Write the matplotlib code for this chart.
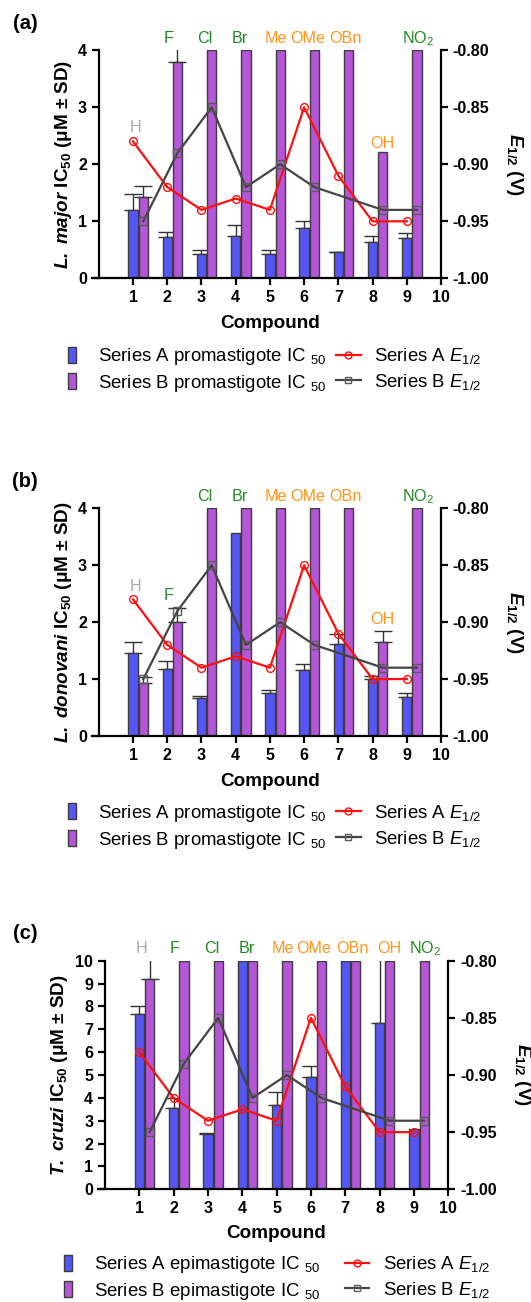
import numpy as np
import matplotlib
matplotlib.use('Agg')
import matplotlib.pyplot as plt
from matplotlib.lines import Line2D
from matplotlib.ticker import FormatStrFormatter

plt.rcParams['font.family'] = ['Liberation Sans', 'DejaVu Sans']
plt.rcParams['mathtext.fontset'] = 'custom'
plt.rcParams['mathtext.rm'] = 'Liberation Sans'
plt.rcParams['mathtext.it'] = 'Liberation Sans:italic'
plt.rcParams['mathtext.bf'] = 'Liberation Sans:bold'
plt.rcParams['mathtext.bfit'] = 'Liberation Sans:bold:italic'

# ---------------- data ----------------
compounds = [1, 2, 3, 4, 5, 6, 7, 8, 9]
substituents = ['H', 'F', 'Cl', 'Br', 'Me', 'OMe', 'OBn', 'OH', 'NO$_2$']
sub_colors = ['#aaaaaa', '#1f8a1f', '#1f8a1f', '#1f8a1f', '#ff961e',
              '#ff961e', '#ff961e', '#ff961e', '#1f8a1f']

e_half_A = [-0.88, -0.92, -0.94, -0.93, -0.94, -0.85, -0.91, -0.95, -0.95]
e_half_B = [-0.95, -0.89, -0.85, -0.92, -0.90, -0.92, np.nan, -0.94, -0.94]

lmaj_A = [1.20, 0.73, 0.42, 0.75, 0.42, 0.89, 0.46, 0.64, 0.70]
lmaj_A_sd = [0.28, 0.09, 0.07, 0.18, 0.08, 0.12, 0.01, 0.10, 0.10]
lmaj_B = [1.43, 3.79, 4.0, 4.0, 4.0, 4.0, 4.0, 2.22, 4.0]
lmaj_B_sd = [0.19, 0.40, 0, 0, 0, 0, 0, 0, 0]

ldon_A = [1.45, 1.17, 0.66, 3.56, 0.75, 1.16, 1.61, 1.01, 0.69]
ldon_A_sd = [0.20, 0.15, 0.04, 0, 0.06, 0.10, 0.19, 0.04, 0.06]
ldon_B = [0.93, 2.00, 4.0, 4.0, 4.0, 4.0, 4.0, 1.66, 4.0]
ldon_B_sd = [0.10, 0.24, 0, 0, 0, 0, 0, 0.18, 0]

tcru_A = [7.65, 3.54, 2.42, 10.0, 3.69, 4.91, 10.0, 7.29, 2.62]
tcru_A_sd = [0.37, 0.44, 0.03, 0, 0.58, 0.47, 0, 4.0, 0]
tcru_B = [9.2, 10.0, 10.0, 10.0, 10.0, 10.0, 10.0, 10.0, 10.0]
tcru_B_sd = [1.5, 0, 0, 0, 0, 0, 0, 0, 0]

# ---------------- style ----------------
BLUE = '#5656f7'
PURPLE = '#b556d8'
EDGE = '#3c3c3c'
RED = '#ff1010'
GRAY = '#444444'
TICK_FS = 11.6
LAB_FS = 13.6
SUB_FS = 11.6
LEG_FS = 13.4

W, H = 531, 1302
fig = plt.figure(figsize=(W / 100, H / 100), dpi=100)


def fx(px):
    return px / W


def fy(py):
    return 1 - py / H


def rect(l, t, r, b):
    return [fx(l), fy(b), fx(r) - fx(l), (b - t) / H]


def panel(box, xleft, A, Asd, B, Bsd, ymax, ylab, letter, letter_y, lab_x, lab_y,
          ylab_x, rlab_x, xlab_x, xlab_y, leg_kind, leg_x, leg_y, colsp):
    l, t, r, b = box
    ax = fig.add_axes(rect(l, t, r, b))
    x = np.array(compounds, dtype=float)
    ax.bar(x, A, width=0.27, color=BLUE, edgecolor=EDGE, linewidth=1.0, zorder=2)
    ax.bar(x + 0.3, B, width=0.27, color=PURPLE, edgecolor=EDGE, linewidth=1.0, zorder=2)
    for xs, vals, sds in ((x, A, Asd), (x + 0.3, B, Bsd)):
        vals = np.array(vals)
        sds = np.array(sds)
        m = sds > 0
        ax.errorbar(xs[m], vals[m], yerr=[np.zeros(m.sum()), sds[m]], fmt='none',
                    ecolor='#333333', elinewidth=1.0, capsize=6.5, capthick=1.0, zorder=1)
    ax.set_xlim(xleft, 10)
    ax.set_ylim(0, ymax)
    ax.set_xticks(range(1, 11))
    ax.set_yticks(range(0, int(ymax) + 1))
    ax.spines['left'].set_position(('data', 0))
    for s in ('top', 'right'):
        ax.spines[s].set_visible(False)
    for s in ('left', 'bottom'):
        ax.spines[s].set_linewidth(1.6)
    ax.tick_params(axis='both', direction='out', length=5, width=1.6, labelsize=TICK_FS)
    for lab in ax.get_xticklabels() + ax.get_yticklabels():
        lab.set_fontweight('bold')

    ax2 = ax.twinx()
    ax2.set_ylim(-1.0, -0.8)
    ax2.set_yticks([-1.0, -0.95, -0.9, -0.85, -0.8])
    ax2.yaxis.set_major_formatter(FormatStrFormatter('%.2f'))
    for s in ('top', 'left', 'bottom'):
        ax2.spines[s].set_visible(False)
    ax2.spines['right'].set_linewidth(1.6)
    ax2.tick_params(axis='y', direction='out', length=5, width=1.6, labelsize=TICK_FS)
    for lab in ax2.get_yticklabels():
        lab.set_fontweight('bold')

    eA = np.array(e_half_A)
    eB = np.array(e_half_B)
    mB = ~np.isnan(eB)
    ax2.plot(x, eA, color=RED, lw=1.6, marker='o', ms=5.6, mfc='none', mec=RED, mew=1.0, zorder=3)
    ax2.plot((x + 0.3)[mB], eB[mB], color=GRAY, lw=1.6, marker='s', ms=5.6, mfc='none',
             mec='#5a5a5a', mew=1.0, zorder=3)

    # substituent labels
    for i, (txt, col) in enumerate(zip(substituents, sub_colors)):
        if lab_y[i] is None:
            ax.annotate(txt, xy=(lab_x[i], 1.0), xycoords=('data', 'axes fraction'),
                        xytext=(0, 5.2), textcoords='offset points', ha='center',
                        va='baseline', color=col, fontsize=SUB_FS, annotation_clip=False)
        else:
            ax.text(lab_x[i], lab_y[i], txt, ha='center', va='baseline', color=col,
                    fontsize=SUB_FS)

    cy = (t + b) / 2
    fig.text(fx(ylab_x), fy(cy), ylab, rotation=90, ha='center', va='center',
             fontsize=LAB_FS, fontweight='bold')
    fig.text(fx(rlab_x), fy(cy), r'$\mathbfit{E}_{\mathbf{1/2}}$ (V)', rotation=270,
             ha='center', va='center', fontsize=LAB_FS, fontweight='bold')
    fig.text(fx(xlab_x), fy(xlab_y), 'Compound', ha='center', va='center',
             fontsize=LAB_FS, fontweight='bold')
    fig.text(fx(25.1), fy(letter_y), letter, ha='center', va='center',
             fontsize=14.5, fontweight='bold')

    rect_marker = [(-0.28, -0.5), (0.28, -0.5), (0.28, 0.5), (-0.28, 0.5), (-0.28, -0.5)]
    handles = [
        Line2D([], [], ls='none', marker=rect_marker, ms=11, mfc=BLUE, mec=EDGE, mew=1.0),
        Line2D([], [], ls='none', marker=rect_marker, ms=11, mfc=PURPLE, mec=EDGE, mew=1.0),
        Line2D([], [], color=RED, lw=1.6, marker='o', ms=5, mfc='none', mec=RED, mew=1.0),
        Line2D([], [], color=GRAY, lw=1.6, marker='s', ms=5, mfc='none', mec='#5a5a5a', mew=1.0),
    ]
    labels = [f'Series A {leg_kind} IC $_{{50}}$', f'Series B {leg_kind} IC $_{{50}}$',
              r'Series A $\mathit{E}_{1/2}$', r'Series B $\mathit{E}_{1/2}$']
    fig.legend(handles, labels, loc='center left', bbox_to_anchor=(fx(leg_x), fy(leg_y)),
               ncol=2, frameon=False, fontsize=LEG_FS, handlelength=1.34,
               handletextpad=0.72, columnspacing=colsp, labelspacing=0.32,
               borderpad=0, borderaxespad=0)
    return ax


lab_x = [1.06, 2.04, 3.11, 4.13, 5.17, 6.09, 7.22, 8.28, 9.34]

panel((91.6, 50.3, 441, 278.3), -0.21, lmaj_A, lmaj_A_sd, lmaj_B, lmaj_B_sd, 4,
      r'$\mathbfit{L.\ major}$ IC$_{\mathbf{50}}$ ($\mathbf{\mu}$M ± SD)', '(a)', 23.3,
      lab_x, [2.56, None, None, None, None, None, None, 2.29, None],
      64, 514, 270, 323, 'promastigote', 60, 370, 0.5)

panel((91.6, 508.3, 441, 736), -0.21, ldon_A, ldon_A_sd, ldon_B, ldon_B_sd, 4,
      r'$\mathbfit{L.\ donovani}$ IC$_{\mathbf{50}}$ ($\mathbf{\mu}$M ± SD)', '(b)', 481.7,
      lab_x, [2.55, 2.39, None, None, None, None, None, 1.97, None],
      64, 514, 270, 781, 'promastigote', 60, 826.7, 0.5)

panel((98.1, 960.7, 448.2, 1189.3), -0.2, tcru_A, tcru_A_sd, tcru_B, tcru_B_sd, 10,
      r'$\mathbfit{T.\ cruzi}$ IC$_{\mathbf{50}}$ ($\mathbf{\mu}$M ± SD)', '(c)', 933.3,
      lab_x, [None] * 9,
      60, 522, 276.5, 1234, 'epimastigote', 55.7, 1278, 1.3)

fig.savefig('out.png', dpi=100)
